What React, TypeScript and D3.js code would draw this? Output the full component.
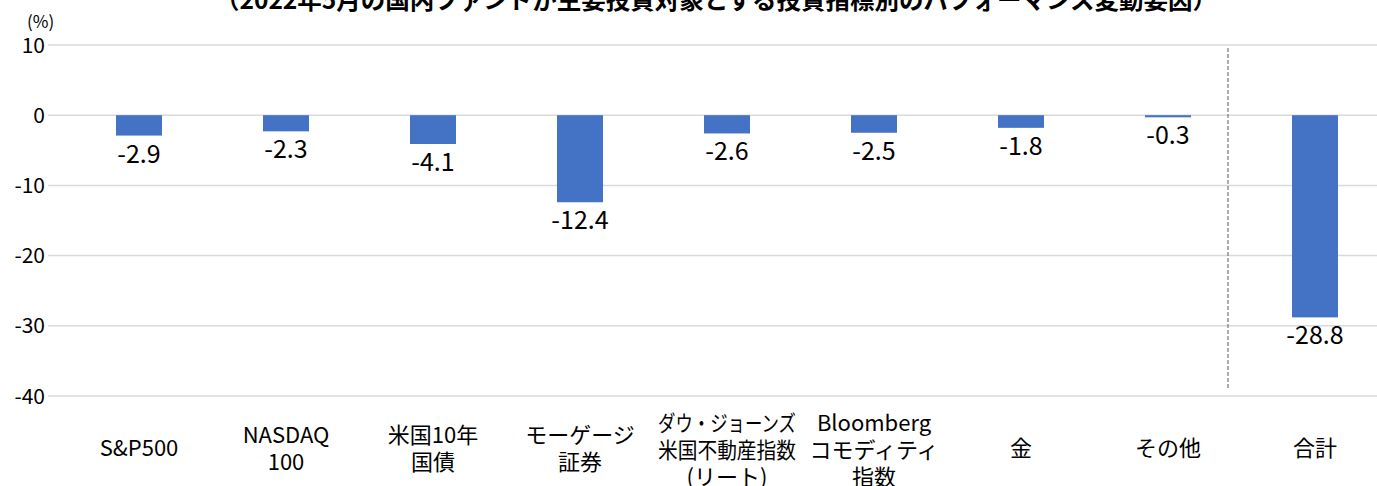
import React, { useLayoutEffect, useRef } from 'react';
import * as d3 from 'd3';

const categories = [
  ['S&P500'],
  ['NASDAQ', '100'],
  ['米国10年', '国債'],
  ['モーゲージ', '証券'],
  ['ダウ・ジョーンズ', '米国不動産指数', '(リート)'],
  ['Bloomberg', 'コモディティ', '指数'],
  ['金'],
  ['その他'],
  ['合計'],
];
const values = [-2.9, -2.3, -4.1, -12.4, -2.6, -2.5, -1.8, -0.3, -28.8];
const yTicks = [10, 0, -10, -20, -30, -40];
const title = '（2022年5月の国内ファンドが主要投資対象とする投資指標別のパフォーマンス変動要因）';

const W = 1377, H = 486;
const font = "'Noto Sans CJK JP', 'Noto Sans', sans-serif";
const maxLabelW = 138;

export default function App() {
  const ref = useRef<SVGSVGElement>(null);
  const y = d3.scaleLinear().domain([-40, 10]).range([396, 45]);
  const keys = categories.map((_, i) => String(i));
  const x = d3.scaleBand().domain(keys).range([65.5, 1388.5]).paddingInner(0.687).paddingOuter(0.3435);
  const bw = x.bandwidth();
  const step = x.step();
  // dashed separator before the total bar
  const sepX = (x('8') as number) + bw / 2 - step * 0.592;

  useLayoutEffect(() => {
    // squeeze category lines that are wider than the band
    d3.select(ref.current).selectAll<SVGTextElement, unknown>('text.cat').each(function () {
      const len = this.getComputedTextLength();
      if (len > maxLabelW) {
        d3.select(this).attr('textLength', maxLabelW).attr('lengthAdjust', 'spacingAndGlyphs');
      }
    });
  }, []);

  return (
    <svg ref={ref} width={W} height={H} style={{ position: 'absolute', left: 0, top: 0, background: '#fff' }} fontFamily={font}>
      <text x={716} y={9} textAnchor="middle" fontSize={24.5} fontWeight="bold" fill="#000">{title}</text>
      <text x={27} y={28} fontSize={17} fill="#000">(%)</text>
      {yTicks.map(t => (
        <g key={t}>
          <line x1={48} x2={W} y1={y(t)} y2={y(t)} stroke="#d9d9d9" strokeWidth={1.5} />
          <text x={45} y={y(t)} dy="0.36em" textAnchor="end" fontSize={21} fill="#000">{t}</text>
        </g>
      ))}
      <line x1={sepX} x2={sepX} y1={48} y2={390} stroke="#808080" strokeWidth={1.3} strokeDasharray="4 2" />
      {values.map((v, i) => {
        const cx = (x(String(i)) as number) + bw / 2;
        return (
          <g key={i}>
            <rect x={x(String(i))} y={y(0)} width={bw} height={y(v) - y(0)} fill="#4472C4" />
            <text x={cx} y={y(v) + 27} textAnchor="middle" fontSize={25} fill="#000">{v.toFixed(1)}</text>
          </g>
        );
      })}
      {categories.map((lines, i) => {
        const cx = (x(String(i)) as number) + bw / 2;
        const lh = 27;
        const mid = 448 + (lines.length - 1) * 1;
        const top = mid - ((lines.length - 1) * lh) / 2;
        return (
          <g key={i}>
            {lines.map((l, j) => (
              <text key={j} className="cat" x={cx} y={top + j * lh} dy="0.36em" textAnchor="middle" fontSize={22} fill="#000">{l}</text>
            ))}
          </g>
        );
      })}
    </svg>
  );
}
